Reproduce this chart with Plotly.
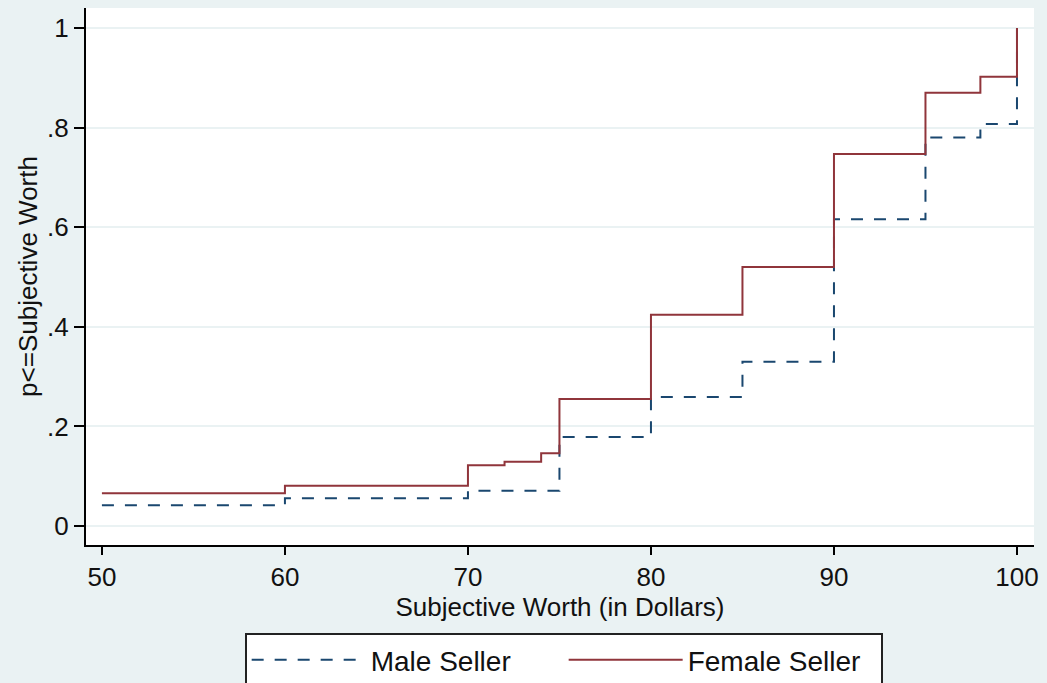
import plotly.graph_objects as go

male_x = [50, 60, 70, 75, 80, 85, 90, 95, 98, 100]
male_y = [0.042, 0.056, 0.071, 0.179, 0.259, 0.330, 0.616, 0.780, 0.807, 1.0]

female_x = [50, 60, 70, 72, 74, 75, 80, 85, 90, 95, 98, 100]
female_y = [0.066, 0.081, 0.122, 0.129, 0.146, 0.255, 0.424, 0.520, 0.747, 0.870, 0.902, 1.0]

x_ticks = [50, 60, 70, 80, 90, 100]
y_ticks = [0, 0.2, 0.4, 0.6, 0.8, 1.0]
y_tick_labels = ["0", ".2", ".4", ".6", ".8", "1"]

NAVY = "#1a476f"
MAROON = "#90353b"
BG = "#eaf2f3"
FONT = "Liberation Sans, Arial, sans-serif"

fig = go.Figure()
fig.add_trace(go.Scatter(
    x=male_x, y=male_y, mode="lines", line_shape="hv", name="Male Seller",
    line=dict(color=NAVY, width=2, dash="12px,11px"),
))
fig.add_trace(go.Scatter(
    x=female_x, y=female_y, mode="lines", line_shape="hv", name="Female Seller",
    line=dict(color=MAROON, width=2),
))

fig.update_layout(
    width=1047, height=683,
    margin=dict(l=86, r=11, t=8, b=138),
    paper_bgcolor=BG, plot_bgcolor="white",
    font=dict(family=FONT, size=26, color="#111111"),
    showlegend=True,
    legend=dict(
        orientation="h", x=(245 - 86) / 950, xanchor="left",
        yref="container", y=(683 - 633) / 683, yanchor="top",
        bgcolor="white", bordercolor="#222222", borderwidth=2,
        font=dict(size=28), itemwidth=114, entrywidth=188,
        traceorder="normal",
    ),
)
fig.update_xaxes(
    range=[49.13, 100.93], tickvals=x_ticks, showgrid=False, zeroline=False,
    showline=True, linecolor="black", linewidth=2, ticks="outside", ticklen=8,
    tickcolor="black", tickwidth=1.5, tickfont=dict(size=26),
    title=dict(text="Subjective Worth (in Dollars)", font=dict(size=26), standoff=0),
)
fig.update_yaxes(
    range=[-0.038, 1.04], tickvals=y_ticks, ticktext=y_tick_labels,
    showgrid=True, gridcolor=BG, gridwidth=1.5, zeroline=False,
    showline=True, linecolor="black", linewidth=2, ticks="outside", ticklen=10,
    tickcolor="black", tickwidth=1.5, tickfont=dict(size=26),
    title=dict(text="p<=Subjective Worth", font=dict(size=26), standoff=2),
)

fig.write_html("out.html", config={"displayModeBar": False},
               post_script="document.body.style.margin='0px';")
